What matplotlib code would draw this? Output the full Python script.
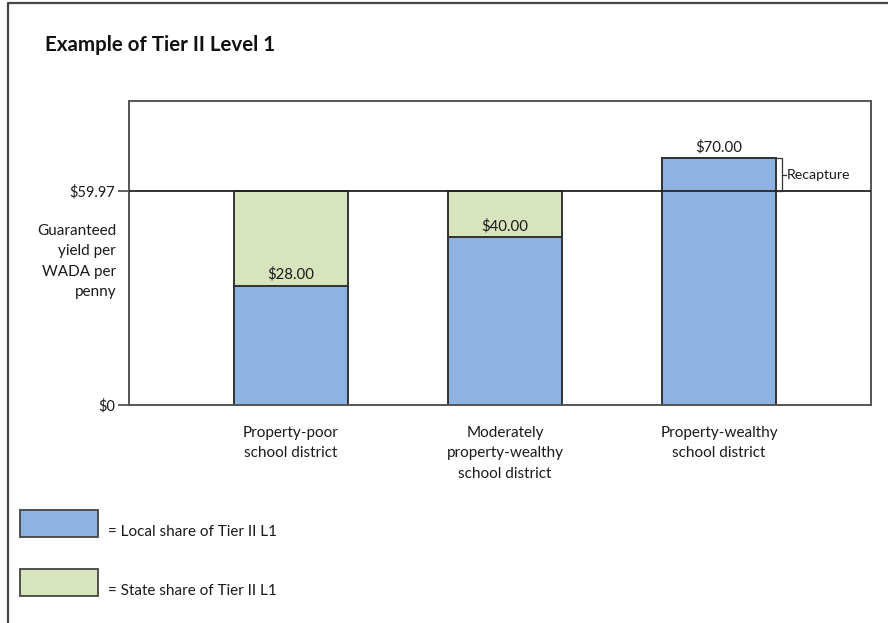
import matplotlib.pyplot as plt
from matplotlib.patches import Rectangle
from matplotlib.lines import Line2D

plt.rcParams['font.family'] = ['Lato', 'DejaVu Sans']

# data (bar heights as drawn in the diagram, labels as printed)
categories = ['Property-poor\nschool district',
              'Moderately\nproperty-wealthy\nschool district',
              'Property-wealthy\nschool district']
local_heights = [33.3, 46.9, 69.0]
local_labels = ['$28.00', '$40.00', '$70.00']
guaranteed_yield = 59.97
ytick_values = [0, guaranteed_yield]
ytick_labels = ['$0', '$59.97']
legend_labels = ['= Local share of Tier II L1', '= State share of Tier II L1']

blue = '#8DB3E2'
green = '#D7E4BD'
edge = '#333333'

W, H = 888, 623
fig = plt.figure(figsize=(W / 100, H / 100), dpi=100)

def fx(px):
    return px / W

def fy(py):
    return 1 - py / H

ax = fig.add_axes([fx(129), fy(405), fx(871) - fx(129), fy(101) - fy(405)])

x = list(range(len(categories)))
bw = 0.535
# state share only where local share is below the guaranteed yield
state = [max(guaranteed_yield - h, 0) for h in local_heights]
ax.bar(x, local_heights, width=bw, color=blue, edgecolor=edge, linewidth=1.4, zorder=2)
ax.bar(x, state, bottom=local_heights, width=bw, color=green, edgecolor=edge,
       linewidth=1.4, zorder=2)

ax.axhline(guaranteed_yield, color='#222222', lw=1.3, zorder=3)

for xi, h, lab in zip(x, local_heights, local_labels):
    ax.text(xi, h + 1.2, lab, ha='center', va='bottom', fontsize=10.8, color='#1a1a1a', zorder=4)

# recapture bracket
xr = x[2] + bw / 2
top = local_heights[2]
bx = xr + 0.025
ax.plot([xr, bx, bx, xr], [top, top, guaranteed_yield, guaranteed_yield],
        color='#333333', lw=0.9, zorder=4, clip_on=False)
mid = (top + guaranteed_yield) / 2
ax.plot([bx, bx + 0.02], [mid, mid], color='#333333', lw=0.9, zorder=4)
ax.text(bx + 0.025, mid, 'Recapture', ha='left', va='center', fontsize=10.2, color='#1a1a1a')

ax.set_xlim(-0.757, 2.71)
ax.set_ylim(0, 85.06)
ax.set_xticks([])
ax.set_yticks(ytick_values)
ax.set_yticklabels(ytick_labels, fontsize=10.5, color='#1a1a1a')
ax.tick_params(axis='y', length=8, width=1.3, color='#555555', pad=2)
for s in ax.spines.values():
    s.set_color('#555555')
    s.set_linewidth(1.4)

for xi, cat in zip(x, categories):
    ax.text(xi, -6.0, cat, ha='center', va='top', fontsize=11, linespacing=1.55,
            color='#1a1a1a')

fig.text(fx(116), fy(224), 'Guaranteed\nyield per\nWADA per\npenny', ha='right', va='top',
         fontsize=11, linespacing=1.58, color='#1a1a1a')

fig.text(fx(45), fy(45), 'Example of Tier II Level 1', ha='left', va='center',
         fontsize=14.8, fontweight='bold', color='#111111')

# legend boxes
for (py, col, lab) in [(510, blue, legend_labels[0]), (569, green, legend_labels[1])]:
    fig.patches.append(Rectangle((fx(20), fy(py + 27)), fx(98) - fx(20), fy(py) - fy(py + 27),
                                 transform=fig.transFigure, facecolor=col,
                                 edgecolor='#444444', lw=1.3))
    fig.text(fx(108), fy(py + 22), lab, ha='left', va='center', fontsize=11, color='#1a1a1a')

# outer frame (top and left edges)
fig.lines.append(Line2D([fx(8), fx(8), 1], [0, fy(3), fy(3)], transform=fig.transFigure,
                        color='#444444', lw=1.6))

fig.savefig('out.png', dpi=100)
